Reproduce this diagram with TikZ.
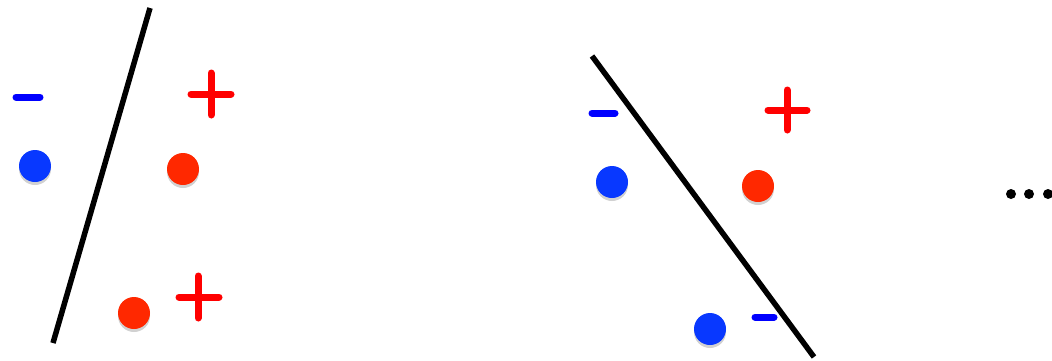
\documentclass[tikz,border=0pt]{standalone}
\begin{document}
\begin{tikzpicture}[x=1pt,y=-1pt,
  sep/.style={line width=5.5pt,black},
  plusmark/.style={line width=7pt,line cap=round,draw={rgb,255:red,255;green,0;blue,0}},
  minusmark/.style={line width=7pt,line cap=round,draw={rgb,255:red,0;green,0;blue,255}},
  shad/.style={fill=black,opacity=0.18},
  bdot/.style={fill={rgb,255:red,8;green,56;blue,255}},
  rdot/.style={fill={rgb,255:red,255;green,40;blue,0}},
  ell/.style={fill=black}]
\useasboundingbox (0,0) rectangle (1052,360);
% left panel
\coordinate (l1) at (150,8);
\coordinate (l2) at (53,343);
\draw[sep] (l1) -- (l2);
\draw[minusmark] (16,97) -- (40,97);
\draw[plusmark] (191,94) -- (231,94) (211,73) -- (211,115);
\draw[plusmark] (179,297) -- (219,297) (198,276) -- (198,318);
\fill[shad] (35,169) circle (16);
\fill[bdot] (35,166) circle (16);
\fill[shad] (183,172) circle (16);
\fill[rdot] (183,169) circle (16);
\fill[shad] (134,316) circle (16);
\fill[rdot] (134,313) circle (16);
% right panel
\coordinate (r1) at (592,56);
\coordinate (r2) at (814,357);
\draw[sep] (r1) -- (r2);
\draw[minusmark] (592,113) -- (615,113);
\draw[plusmark] (768,110) -- (807,110) (787,90) -- (787,130);
\draw[minusmark] (755,317) -- (774,317);
\fill[shad] (612,185) circle (16);
\fill[bdot] (612,182) circle (16);
\fill[shad] (758,189) circle (16);
\fill[rdot] (758,186) circle (16);
\fill[shad] (710,332) circle (16);
\fill[bdot] (710,329) circle (16);
% ellipsis
\fill[ell] (1011,194) circle (5) (1029,194) circle (5) (1048,194) circle (5);
\end{tikzpicture}
\end{document}
